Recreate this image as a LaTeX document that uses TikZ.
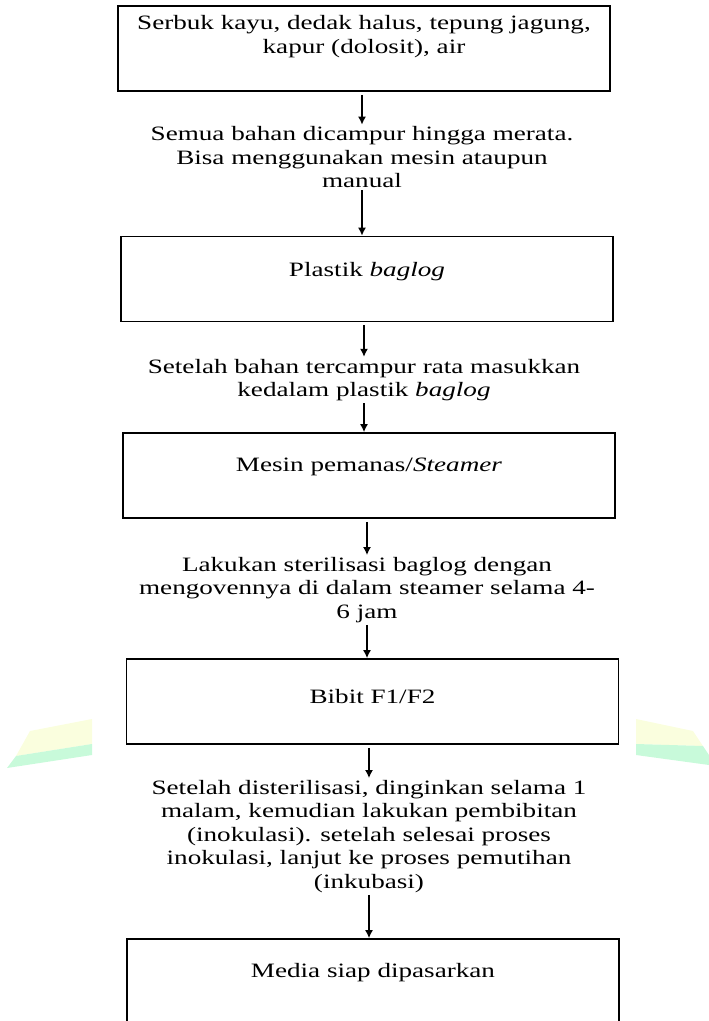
\documentclass[tikz,border=0pt]{standalone}
\usepackage{fontspec}
\setmainfont{Liberation Serif}[FakeStretch=1.33]
\usetikzlibrary{arrows.meta,positioning}
\definecolor{wmyellow}{RGB}{250,254,222}
\definecolor{wmgreen}{RGB}{200,250,218}
\begin{document}
\begin{tikzpicture}[x=1pt, y=-1pt,
    every node/.style={font=\fontsize{20.4}{23.5}\selectfont, align=center, inner sep=2pt},
    box/.style={draw, line width=1.7pt, minimum width=492pt, minimum height=85pt},
    flow/.style={line width=1.4pt, -{Latex[length=8pt,width=8pt]}}]
  \clip (0,0) rectangle (709,1021);
  \fill[wmyellow] (30,731) -- (92,719) -- (92,744) -- (16,756) -- cycle;
  \fill[wmgreen] (16,756) -- (92,744) -- (92,755) -- (7,768) -- cycle;
  \fill[wmyellow] (636,719) -- (693,731) -- (703,746) -- (636,744) -- cycle;
  \fill[wmgreen] (636,744) -- (703,746) -- (709,755) -- (709,765) -- (636,755) -- cycle;
  \node[box] (b1) at (364,48.5) {};
  \node (s1) at (364,36.5) {Serbuk kayu, dedak halus, tepung jagung,\\kapur (dolosit), air};
  \node (t1) at (362,157.5) {Semua bahan dicampur hingga merata.\\Bisa menggunakan mesin ataupun\\manual};
  \node[box] (b2) at (367,279) {};
  \node (s2) at (367,272) {Plastik \textit{baglog}};
  \node (t2) at (364,380) {Setelah bahan tercampur rata masukkan\\kedalam plastik \textit{baglog}};
  \node[box] (b3) at (369,475.5) {};
  \node (s3) at (369,467) {Mesin pemanas/\textit{Steamer}};
  \node (t3) at (367,590) {Lakukan sterilisasi baglog dengan\\mengovennya di dalam steamer selama 4-\\6 jam};
  \node[box] (b4) at (372.5,701.5) {};
  \node (s4) at (372.5,697) {Bibit F1/F2};
  \node (t4) at (369,836.5) {Setelah disterilisasi, dinginkan selama 1\\malam, kemudian lakukan pembibitan\\(inokulasi). setelah selesai proses\\inokulasi, lanjut ke proses pemutihan\\(inkubasi)};
  \node[box, minimum height=100pt] (b5) at (373,989) {};
  \node (s5) at (373,973) {Media siap dipasarkan};
  \draw[flow, shorten <=3pt] (t1.north |- b1.south) -- (t1.north);
  \draw[flow] (t1.south) -- (t1.south |- b2.north);
  \draw[flow, shorten <=3pt] (t2.north |- b2.south) -- (t2.north);
  \draw[flow] (t2.south) -- (t2.south |- b3.north);
  \draw[flow, shorten <=3pt] (t3.north |- b3.south) -- (t3.north);
  \draw[flow] (t3.south) -- (t3.south |- b4.north);
  \draw[flow, shorten <=3pt] (t4.north |- b4.south) -- (t4.north);
  \draw[flow] (t4.south) -- (t4.south |- b5.north);
\end{tikzpicture}
\end{document}
